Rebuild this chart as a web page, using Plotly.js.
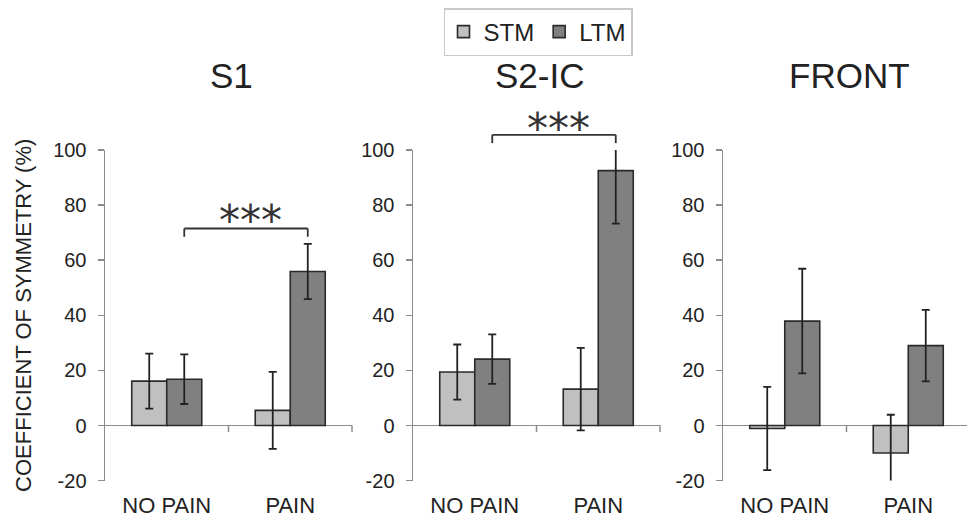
<!DOCTYPE html>
<html>
<head>
<meta charset="utf-8">
<script src="https://cdn.plot.ly/plotly-3.0.1.min.js"></script>
<style>
html, body { margin: 0; padding: 0; overflow: hidden; background: #fff; }
#chart { width: 972px; height: 517px; }
</style>
</head>
<body>
<div id="chart"></div>
<script>
// ---- data ----
const categories = ['NO PAIN', 'PAIN'];
const panelTitles = ['S1', 'S2-IC', 'FRONT'];
const seriesNames = ['STM', 'LTM'];

const stmS1 = [16.1, 5.5];
const stmS1ErrPlus = [10, 14];
const stmS1ErrMinus = [10, 14];
const ltmS1 = [16.8, 55.9];
const ltmS1ErrPlus = [9, 10];
const ltmS1ErrMinus = [9, 10];

const stmS2 = [19.4, 13.2];
const stmS2ErrPlus = [10, 15];
const stmS2ErrMinus = [10, 15];
const ltmS2 = [24.1, 92.5];
const ltmS2ErrPlus = [9, 19.2];
const ltmS2ErrMinus = [9, 19.2];

const stmFront = [-1.1, -10.0];
const stmFrontErrPlus = [15.1, 13.9];
const stmFrontErrMinus = [15.1, 10.6];
const ltmFront = [37.9, 29.0];
const ltmFrontErrPlus = [19, 13];
const ltmFrontErrMinus = [19, 13];

const yTickVals = [-20, 0, 20, 40, 60, 80, 100];
const yTickText = ['-20', '0', '20', '40', '60', '80', '100'];
const yRange = [-20, 100];
const yTitle = 'COEFFICIENT OF SYMMETRY (%)';

// significance brackets (panel index, bracket height, label height, label)
const sigPanels = [0, 1];
const sigBracketY = [71.5, 105.5];
const sigLabelY = [74.5, 107.8];
const sigLabels = ['***', '***'];

// ---- styling ----
const W = 972, H = 517;
const FONT = 'Liberation Sans, Arial, sans-serif';
const TXT = '#222222';
const AXC = '#8c8c8c';
const colors = ['#c0c0c0', '#808080'];
const BARGAP = 0.433;
const panelPx = [[105, 352], [413, 660], [723, 970]];
const plotTop = 150, plotBottom = 480.6;

const panelData = [
  [[stmS1, stmS1ErrPlus, stmS1ErrMinus], [ltmS1, ltmS1ErrPlus, ltmS1ErrMinus]],
  [[stmS2, stmS2ErrPlus, stmS2ErrMinus], [ltmS2, ltmS2ErrPlus, ltmS2ErrMinus]],
  [[stmFront, stmFrontErrPlus, stmFrontErrMinus], [ltmFront, ltmFrontErrPlus, ltmFrontErrMinus]]
];

const traces = [];
const layout = {
  width: W, height: H,
  margin: {l: 0, r: 0, t: 0, b: 0},
  paper_bgcolor: '#ffffff', plot_bgcolor: '#ffffff',
  font: {family: FONT, color: TXT},
  barmode: 'group', bargap: BARGAP, bargroupgap: 0,
  showlegend: true,
  legend: {
    orientation: 'h', x: 538 / W, xanchor: 'center', y: 1 - 8 / H, yanchor: 'top',
    bordercolor: '#c8c8c8', borderwidth: 1.5, bgcolor: '#ffffff',
    font: {size: 24, color: TXT, family: FONT},
    itemwidth: 30, tracegroupgap: 0
  },
  shapes: [], annotations: []
};

const domY = [1 - plotBottom / H, 1 - plotTop / H];
const toDomY = v => (v - yRange[0]) / (yRange[1] - yRange[0]);

panelData.forEach((pd, p) => {
  const sfx = p === 0 ? '' : String(p + 1);
  const xa = 'x' + sfx, ya = 'y' + sfx;
  pd.forEach((s, k) => {
    traces.push({
      type: 'bar', name: seriesNames[k], x: categories, y: s[0],
      xaxis: xa, yaxis: ya, legendgroup: seriesNames[k], showlegend: p === 0,
      marker: {color: colors[k], line: {color: '#2a2a2a', width: 1.6}},
      error_y: {type: 'data', symmetric: false, array: s[1], arrayminus: s[2],
                color: '#222222', thickness: 1.8, width: 4},
      hoverinfo: 'skip'
    });
  });
  layout['xaxis' + sfx] = {
    domain: [panelPx[p][0] / W, panelPx[p][1] / W], anchor: ya,
    type: 'category', categoryarray: categories, range: [-0.5, categories.length - 0.5],
    showline: false, showgrid: false, zeroline: false, ticks: '',
    tickfont: {size: 22, color: TXT, family: FONT}, ticklabelstandoff: 9,
    fixedrange: true
  };
  layout['yaxis' + sfx] = {
    domain: domY, anchor: xa, range: yRange, tickvals: yTickVals, ticktext: yTickText,
    showline: true, linecolor: AXC, linewidth: 1.5,
    ticks: 'outside', ticklen: 6, tickcolor: AXC, tickwidth: 1.5,
    showgrid: false, zeroline: true, zerolinecolor: AXC, zerolinewidth: 1.5,
    tickfont: {size: 20, color: TXT, family: FONT}, ticklabelstandoff: 7,
    fixedrange: true
  };
  if (p === 0) {
    layout['yaxis' + sfx].title = {text: yTitle, font: {size: 22, color: TXT, family: FONT}, standoff: 15};
  }
  // boundary tick marks hanging below the zero line
  for (let c = 1; c <= categories.length; c++) {
    layout.shapes.push({
      type: 'line', xref: xa + ' domain', yref: ya,
      x0: c / categories.length, x1: c / categories.length, y0: 0, y1: -2.4,
      line: {color: AXC, width: 1.5}
    });
  }
  // panel title
  layout.annotations.push({
    text: panelTitles[p], xref: xa + ' domain', x: 0.5, xshift: 2.5,
    yref: 'paper', y: 1 - 76 / H, yanchor: 'middle', showarrow: false,
    font: {size: 35, color: TXT, family: FONT}
  });
});

// significance brackets
const ltmOffset = (1 - BARGAP) / 4;
sigPanels.forEach((p, i) => {
  const sfx = p === 0 ? '' : String(p + 1);
  const xa = 'x' + sfx, ya = 'y' + sfx;
  const xL = 0 + ltmOffset, xR = 1 + ltmOffset;
  const yT = toDomY(sigBracketY[i]), yB = toDomY(sigBracketY[i] - 3);
  const ln = {color: '#333333', width: 1.8};
  layout.shapes.push({type: 'line', xref: xa, yref: ya + ' domain', x0: xL, x1: xR, y0: yT, y1: yT, line: ln});
  layout.shapes.push({type: 'line', xref: xa, yref: ya + ' domain', x0: xL, x1: xL, y0: yT, y1: yB, line: ln});
  layout.shapes.push({type: 'line', xref: xa, yref: ya + ' domain', x0: xR, x1: xR, y0: yT, y1: yB, line: ln});
  layout.annotations.push({
    text: sigLabels[i], xref: xa, x: (xL + xR) / 2, xshift: 4,
    yref: ya + ' domain', y: toDomY(sigLabelY[i]), yanchor: 'middle', showarrow: false,
    font: {size: 42, color: '#333333', family: 'DejaVu Sans, sans-serif'}
  });
});

Plotly.newPlot('chart', traces, layout, {displayModeBar: false, staticPlot: true});
</script>
</body>
</html>
